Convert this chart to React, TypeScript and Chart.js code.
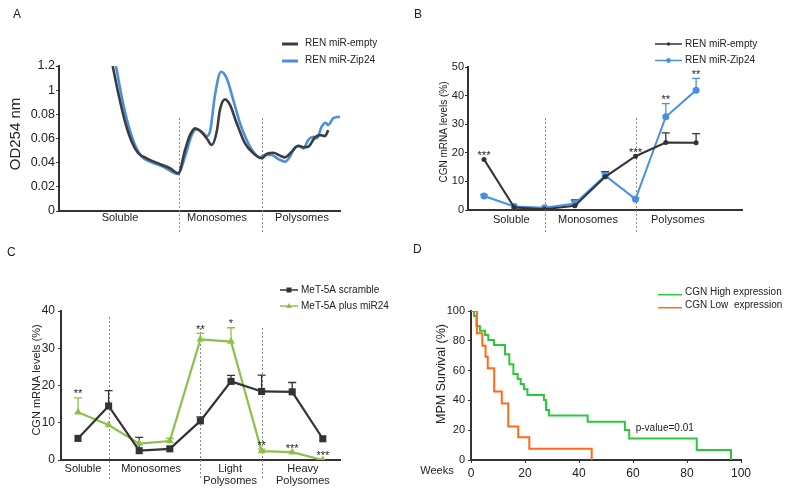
import React, { useEffect, useRef } from 'react';
import { Chart, registerables } from 'chart.js';

Chart.register(...registerables);

const FONT = '"Liberation Sans", Arial, Helvetica, sans-serif';
const INK = '#222222';
const AXIS = '#333333';
const DASH = '#8a8a8a';

// ---------------- Panel A : OD254 profile ----------------
const aYLabels = ['0', '0.02', '0.04', '0.06', '0.08', '1', '1.2'];
const aEmptyX = [53.7, 59.3, 66, 72.7, 79.3, 87.7, 101, 111, 119.3, 126, 131, 136, 141, 147.7, 152.7, 157.7, 161, 166, 171, 177.7, 186, 194.3, 202.7, 207.7, 214.3, 221, 226, 232.7, 239.3, 244.3, 249.3, 256, 261, 266, 269.3];
const aEmptyY = [6.0, 4.87, 3.7, 2.87, 2.39, 2.18, 1.94, 1.77, 1.56, 2.52, 3.14, 3.42, 3.32, 3.01, 2.73, 3.28, 4.2, 4.62, 4.39, 3.63, 2.8, 2.39, 2.18, 2.36, 2.41, 2.29, 2.22, 2.45, 2.7, 2.64, 2.66, 3.05, 3.14, 3.1, 3.35];
const aZipX = [57, 62.7, 69.3, 76, 82.7, 91, 104.3, 119.3, 126, 132.7, 137.7, 142.7, 147.7, 151, 156, 162, 167.7, 174.3, 181, 187.7, 194.3, 201, 206, 212.7, 219.3, 226, 231, 236, 241, 244.3, 249.3, 254.3, 257.7, 262.7, 266.7, 269.3, 274.3, 281];
const aZipY = [6.0, 4.73, 3.56, 2.73, 2.25, 2.04, 1.83, 1.53, 2.25, 3.14, 3.38, 3.28, 3.1, 3.28, 4.8, 5.76, 5.49, 4.59, 3.63, 2.94, 2.45, 2.22, 2.32, 2.32, 2.15, 2.04, 2.25, 2.64, 2.69, 2.59, 2.94, 3.07, 3.01, 3.49, 3.65, 3.56, 3.84, 3.9];
const aGroups = ['Soluble', 'Monosomes', 'Polysomes'];
const aGroupPos = [61, 158, 243];
const aDividers = [120, 203];
const aSeriesNames = ['REN miR-empty', 'REN miR-Zip24'];

// ---------------- Panel B : CGN mRNA (REN) ----------------
const bEmpty = [17.7, 0.9, 0.3, 1.5, 11.6, 18.8, 23.6, 23.5];
const bEmptyErr = [0, 0, 0, 2.0, 1.8, 0, 3.4, 3.2];
const bZip = [4.9, 1.2, 0.8, 2.3, 12.0, 3.8, 32.6, 41.9];
const bZipErr = [0.5, 0, 0, 0.8, 1.0, 0.5, 4.6, 4.1];
const bGroups = ['Soluble', 'Monosomes', 'Polysomes'];
const bGroupPos = [0.9, 3.43, 6.4];
const bDividers = [2, 5];
const bStars = [
  { i: 0, text: '***', series: 0 },
  { i: 5, text: '***', series: 0 },
  { i: 6, text: '**', series: 1 },
  { i: 7, text: '**', series: 1 },
];

// ---------------- Panel C : CGN mRNA (MeT-5A) ----------------
const cScramble = [5.8, 14.5, 2.5, 3.0, 10.5, 21.1, 18.4, 18.3, 5.7];
const cScrambleErr = [0, 4.1, 3.6, 0, 1.1, 1.6, 4.4, 2.5, 0];
const cMir24 = [12.8, 9.4, 4.4, 5.1, 32.4, 31.8, 2.4, 2.1, 0];
const cMir24Err = [3.9, 0, 0, 0.7, 1.6, 3.7, 0.5, 0, 0];
const cGroups: (string | string[])[] = ['Soluble', 'Monosomes', ['Light', 'Polysomes'], ['Heavy', 'Polysomes']];
const cGroupPos = [0.16, 2.39, 4.97, 7.35];
const cDividers = [1, 4, 6];
const cStars = [
  { i: 0, text: '**', series: 1 },
  { i: 4, text: '**', series: 1 },
  { i: 5, text: '*', series: 1 },
  { i: 6, text: '**', series: 1 },
  { i: 7, text: '***', series: 1 },
  { i: 8, text: '***', series: 1 },
];

// ---------------- Panel D : Kaplan-Meier ----------------
const dHighWeeks = [0, 1.1, 2.0, 3.3, 5.2, 6.4, 8.5, 12.6, 14.2, 15.7, 17.3, 18.4, 19.6, 20.9, 27.0, 27.8, 28.9, 43.2, 57.0, 58.6, 83.6, 96.3];
const dHighSurv = [100, 96.6, 89.9, 86.8, 83.9, 80.5, 77.2, 70.9, 64.2, 57.7, 54.4, 51.0, 47.4, 43.6, 40.3, 33.6, 29.8, 25.7, 20.1, 14.5, 6.7, 0];
const dLowWeeks = [0, 2.2, 4.2, 5.4, 6.2, 8.6, 11.4, 13.8, 17.5, 21.6, 44.7];
const dLowSurv = [100, 85.0, 76.7, 69.3, 61.5, 45.9, 38.0, 22.4, 15.2, 7.6, 0];

// ---------------- helpers ----------------
type Area = { l: number; t: number; r: number; b: number };
type TextItem = { text: string; x: number; y: number; size: number; align?: CanvasTextAlign; rotate?: number; baseline?: CanvasTextBaseline };

function drawTexts(ctx: CanvasRenderingContext2D, items: TextItem[]) {
  for (const t of items) {
    ctx.save();
    ctx.font = `${t.size}px ${FONT}`;
    ctx.fillStyle = INK;
    ctx.textAlign = t.align || 'left';
    ctx.textBaseline = t.baseline || 'middle';
    ctx.translate(t.x, t.y);
    if (t.rotate) ctx.rotate(t.rotate);
    ctx.fillText(t.text, 0, 0);
    ctx.restore();
  }
}

function drawMarker(ctx: CanvasRenderingContext2D, kind: string, x: number, y: number, r: number, color: string) {
  ctx.save();
  ctx.fillStyle = color;
  ctx.beginPath();
  if (kind === 'rect') {
    ctx.rect(x - r, y - r, 2 * r, 2 * r);
  } else if (kind === 'triangle') {
    ctx.moveTo(x, y - r * 1.1);
    ctx.lineTo(x + r, y + r * 0.7);
    ctx.lineTo(x - r, y + r * 0.7);
    ctx.closePath();
  } else {
    ctx.arc(x, y, r, 0, Math.PI * 2);
  }
  ctx.fill();
  ctx.restore();
}

type LegendItem = { label: string; color: string; marker?: string; mr?: number };
function drawLegend(ctx: CanvasRenderingContext2D, items: LegendItem[], x0: number, x1: number, tx: number, ys: number[], lineDy: number, size: number, lw: number) {
  items.forEach((it, k) => {
    const y = ys[k];
    ctx.save();
    ctx.strokeStyle = it.color;
    ctx.lineWidth = lw;
    ctx.beginPath();
    ctx.moveTo(x0, y + lineDy);
    ctx.lineTo(x1, y + lineDy);
    ctx.stroke();
    ctx.restore();
    if (it.marker) drawMarker(ctx, it.marker, (x0 + x1) / 2, y + lineDy, it.mr || 2, it.color);
    drawTexts(ctx, [{ text: it.label, x: tx, y, size }]);
  });
}

function drawDividers(chart: any, values: number[], tops: number[], bottom: number) {
  const { ctx, scales } = chart;
  ctx.save();
  ctx.strokeStyle = DASH;
  ctx.lineWidth = 1;
  ctx.setLineDash([2, 2]);
  values.forEach((v, k) => {
    const px = Math.round(scales.x.getPixelForValue(v)) + 0.5;
    ctx.beginPath();
    ctx.moveTo(px, tops[k]);
    ctx.lineTo(px, bottom);
    ctx.stroke();
  });
  ctx.restore();
}

function drawErrors(chart: any, vals: number[], errs: number[], color: string) {
  const { ctx, scales } = chart;
  ctx.save();
  ctx.strokeStyle = color;
  ctx.lineWidth = 1.3;
  errs.forEach((e, i) => {
    if (!e) return;
    const px = scales.x.getPixelForValue(i);
    const y0 = scales.y.getPixelForValue(vals[i]);
    const y1 = scales.y.getPixelForValue(vals[i] + e);
    ctx.beginPath();
    ctx.moveTo(px, y0);
    ctx.lineTo(px, y1);
    ctx.moveTo(px - 4, y1);
    ctx.lineTo(px + 4, y1);
    ctx.stroke();
  });
  ctx.restore();
}

function drawStars(chart: any, stars: { i: number; text: string; series: number }[], series: { v: number[]; e: number[] }[]) {
  const { ctx, scales } = chart;
  const size = 11;
  stars.forEach((s) => {
    const sr = series[s.series];
    const px = scales.x.getPixelForValue(s.i);
    const yc = scales.y.getPixelForValue(sr.v[s.i] + sr.e[s.i]) - 7;
    drawTexts(ctx, [{ text: s.text, x: px, y: yc + 0.58 * size, size, align: 'center', baseline: 'alphabetic' }]);
  });
}

function xy(xs: number[], ys: number[]) {
  return xs.map((x, i) => ({ x, y: ys[i] }));
}
function idx(ys: number[]) {
  return ys.map((y, i) => ({ x: i, y }));
}

function baseOptions(area: Area, W: number, H: number) {
  return {
    animation: false,
    responsive: false,
    events: [],
    layout: { padding: { left: 0, top: area.t, right: W - area.r, bottom: 0 } },
    plugins: { legend: { display: false }, tooltip: { enabled: false } },
  };
}

function yAxis(area: Area, min: number, max: number, step: number, size: number, pad: number, cb?: (v: number) => string) {
  return {
    type: 'linear',
    min,
    max,
    afterFit: (s: any) => { s.width = area.l; },
    border: { display: true, color: AXIS, width: 2 },
    grid: { display: true, drawOnChartArea: false, drawTicks: true, tickLength: 3, color: AXIS, lineWidth: 1 },
    ticks: { stepSize: step, color: INK, font: { family: FONT, size }, padding: pad, callback: cb || ((v: number) => String(v)) },
  };
}

function groupAxis(area: Area, H: number, min: number, max: number, pos: number[], labels: any[], pad: number) {
  return {
    type: 'linear',
    min,
    max,
    afterFit: (s: any) => { s.height = H - area.b; },
    afterBuildTicks: (s: any) => { s.ticks = pos.map((v) => ({ value: v })); },
    border: { display: true, color: AXIS, width: 2 },
    grid: { display: false, drawTicks: false },
    ticks: { autoSkip: false, maxRotation: 0, color: INK, font: { family: FONT, size: 11, lineHeight: 1.1 }, padding: pad, callback: (_v: any, i: number) => labels[i] },
  };
}

// ---------------- chart builders ----------------
const TOP_H = 240;
const BOT_H = 254;
const W = 400;

function buildA() {
  const area = { l: 59, t: 66, r: 340, b: 211 };
  const black = '#3c3c3c';
  const blue = '#4a8fde';
  return {
    type: 'line',
    data: {
      datasets: [
        { label: aSeriesNames[0], data: xy(aEmptyX, aEmptyY), borderColor: black, borderWidth: 2.6, pointRadius: 0, cubicInterpolationMode: 'monotone', fill: false },
        { label: aSeriesNames[1], data: xy(aZipX, aZipY), borderColor: blue, borderWidth: 2.6, pointRadius: 0, cubicInterpolationMode: 'monotone', fill: false },
      ],
    },
    options: {
      ...baseOptions(area, W, TOP_H),
      scales: {
        x: groupAxis(area, TOP_H, 0, area.r - area.l, aGroupPos, aGroups, 1),
        y: yAxis(area, 0, 6, 1, 12.5, 1, (v: number) => aYLabels[v]),
      },
    },
    plugins: [
      {
        id: 'decorA',
        beforeDatasetsDraw(chart: any) { drawDividers(chart, aDividers, [118, 118], 233); },
        afterDraw(chart: any) {
          const ctx = chart.ctx;
          drawTexts(ctx, [
            { text: 'A', x: 13, y: 17.5, size: 12, baseline: 'alphabetic' },
            { text: 'OD254 nm', x: 16, y: 134, size: 15, align: 'center', rotate: -Math.PI / 2 },
          ]);
          drawLegend(ctx, [
            { label: aSeriesNames[0], color: black },
            { label: aSeriesNames[1], color: blue },
          ], 282, 298, 305, [43.5, 60.5], 0.5, 10, 3);
        },
      },
    ],
  };
}

function buildB() {
  const area = { l: 68, t: 67, r: 342, b: 210 };
  const black = '#333333';
  const blue = '#4a90e2';
  const x0 = 84, dx = 30.3;
  const series = [{ v: bEmpty, e: bEmptyErr }, { v: bZip, e: bZipErr }];
  return {
    type: 'line',
    data: {
      datasets: [
        { label: 'REN miR-empty', data: idx(bEmpty), borderColor: black, backgroundColor: black, borderWidth: 2, pointRadius: 2.5, pointBorderWidth: 0, tension: 0 },
        { label: 'REN miR-Zip24', data: idx(bZip), borderColor: blue, backgroundColor: blue, borderWidth: 2, pointRadius: 3.5, pointBorderWidth: 0, tension: 0 },
      ],
    },
    options: {
      ...baseOptions(area, W, TOP_H),
      scales: {
        x: groupAxis(area, TOP_H, (area.l - x0) / dx, (area.r - x0) / dx, bGroupPos, bGroups, 4),
        y: yAxis(area, 0, 50, 10, 11, 1),
      },
    },
    plugins: [
      {
        id: 'decorB',
        beforeDatasetsDraw(chart: any) {
          drawDividers(chart, bDividers, [118, 118], 233);
          drawErrors(chart, bEmpty, bEmptyErr, black);
          drawErrors(chart, bZip, bZipErr, blue);
        },
        afterDraw(chart: any) {
          const ctx = chart.ctx;
          drawStars(chart, bStars, series);
          drawTexts(ctx, [
            { text: 'B', x: 14, y: 17.5, size: 12, baseline: 'alphabetic' },
            { text: 'CGN mRNA levels (%)', x: 44, y: 132, size: 10, align: 'center', rotate: -Math.PI / 2 },
          ]);
          drawLegend(ctx, [
            { label: 'REN miR-empty', color: black, marker: 'circle', mr: 1.8 },
            { label: 'REN miR-Zip24', color: blue, marker: 'circle', mr: 2.4 },
          ], 255, 282, 285, [44, 60.5], 0, 10, 1.5);
        },
      },
    ],
  };
}

function buildC() {
  const area = { l: 61, t: 71, r: 340, b: 220 };
  const black = '#333333';
  const green = '#8dc04b';
  const x0 = 78, dx = 30.6;
  const series = [{ v: cScramble, e: cScrambleErr }, { v: cMir24, e: cMir24Err }];
  return {
    type: 'line',
    data: {
      datasets: [
        { label: 'MeT-5A scramble', data: idx(cScramble), borderColor: black, backgroundColor: black, borderWidth: 2.2, pointStyle: 'rect', pointRadius: 5, pointBorderWidth: 0, tension: 0 },
        { label: 'MeT-5A plus miR24', data: idx(cMir24), borderColor: green, backgroundColor: green, borderWidth: 2.2, pointStyle: 'triangle', pointRadius: 4.5, pointBorderWidth: 0, tension: 0 },
      ],
    },
    options: {
      ...baseOptions(area, W, BOT_H),
      scales: {
        x: groupAxis(area, BOT_H, (area.l - x0) / dx, (area.r - x0) / dx, cGroupPos, cGroups, 3),
        y: yAxis(area, 0, 40, 10, 12, 3),
      },
    },
    plugins: [
      {
        id: 'decorC',
        beforeDatasetsDraw(chart: any) {
          drawDividers(chart, cDividers, [77, 88, 88], 240);
          drawErrors(chart, cScramble, cScrambleErr, black);
          drawErrors(chart, cMir24, cMir24Err, green);
        },
        afterDraw(chart: any) {
          const ctx = chart.ctx;
          drawStars(chart, cStars, series);
          drawTexts(ctx, [
            { text: 'C', x: 7, y: 16, size: 12, baseline: 'alphabetic' },
            { text: 'CGN mRNA levels (%)', x: 37, y: 140, size: 11, align: 'center', rotate: -Math.PI / 2 },
          ]);
          drawLegend(ctx, [
            { label: 'MeT-5A scramble', color: black, marker: 'rect', mr: 2.5 },
            { label: 'MeT-5A plus miR24', color: green, marker: 'triangle', mr: 2.8 },
          ], 280, 298, 301, [50, 66], 0, 10, 1.5);
        },
      },
    ],
  };
}

function buildD() {
  const area = { l: 71, t: 71, r: 341, b: 220 };
  const green = '#2cc83c';
  const orange = '#ff6a17';
  return {
    type: 'line',
    data: {
      datasets: [
        { label: 'CGN Low  expression', data: xy(dLowWeeks, dLowSurv), borderColor: orange, borderWidth: 2, pointRadius: 0, stepped: 'before', fill: false },
        { label: 'CGN High expression', data: xy(dHighWeeks, dHighSurv), borderColor: green, borderWidth: 2, pointRadius: 0, stepped: 'before', fill: false },
      ],
    },
    options: {
      ...baseOptions(area, W, BOT_H),
      scales: {
        x: {
          type: 'linear',
          min: 0,
          max: 100,
          afterFit: (s: any) => { s.height = BOT_H - area.b; },
          border: { display: true, color: AXIS, width: 2 },
          grid: { display: true, drawOnChartArea: false, drawTicks: true, tickLength: 3, color: AXIS },
          ticks: { stepSize: 20, color: INK, font: { family: FONT, size: 12 }, padding: 3, maxRotation: 0 },
        },
        y: yAxis(area, 0, 100, 20, 11, 3),
      },
    },
    plugins: [
      {
        id: 'decorD',
        afterDraw(chart: any) {
          const ctx = chart.ctx;
          const px = chart.scales.x.getPixelForValue(61);
          const py = chart.scales.y.getPixelForValue(21);
          drawTexts(ctx, [
            { text: 'D', x: 13, y: 13, size: 12, baseline: 'alphabetic' },
            { text: 'MPM Survival (%)', x: 42, y: 134, size: 12.5, align: 'center', rotate: -Math.PI / 2 },
            { text: 'Weeks', x: 37, y: 231, size: 11, align: 'center' },
            { text: 'p-value=0.01', x: px, y: py, size: 10 },
          ]);
          drawLegend(ctx, [
            { label: 'CGN High expression', color: green },
            { label: 'CGN Low  expression', color: orange },
          ], 258, 282, 285, [52.7, 65.7], 2, 10, 1.5);
        },
      },
    ],
  };
}

function Panel({ build, left, top, height }: { build: () => any; left: number; top: number; height: number }) {
  const ref = useRef<HTMLCanvasElement | null>(null);
  useEffect(() => {
    if (!ref.current) return;
    const chart = new Chart(ref.current, build());
    return () => chart.destroy();
  }, [build]);
  return (
    <canvas
      ref={ref}
      width={W}
      height={height}
      style={{ position: 'absolute', left, top, width: W, height, display: 'block' }}
    />
  );
}

export default function App() {
  useEffect(() => {
    document.body.style.margin = '0';
    document.body.style.background = '#ffffff';
  }, []);
  return (
    <div style={{ position: 'relative', width: 800, height: 494, background: '#ffffff', overflow: 'hidden' }}>
      <Panel build={buildA} left={0} top={0} height={TOP_H} />
      <Panel build={buildB} left={400} top={0} height={TOP_H} />
      <Panel build={buildC} left={0} top={240} height={BOT_H} />
      <Panel build={buildD} left={400} top={240} height={BOT_H} />
    </div>
  );
}
